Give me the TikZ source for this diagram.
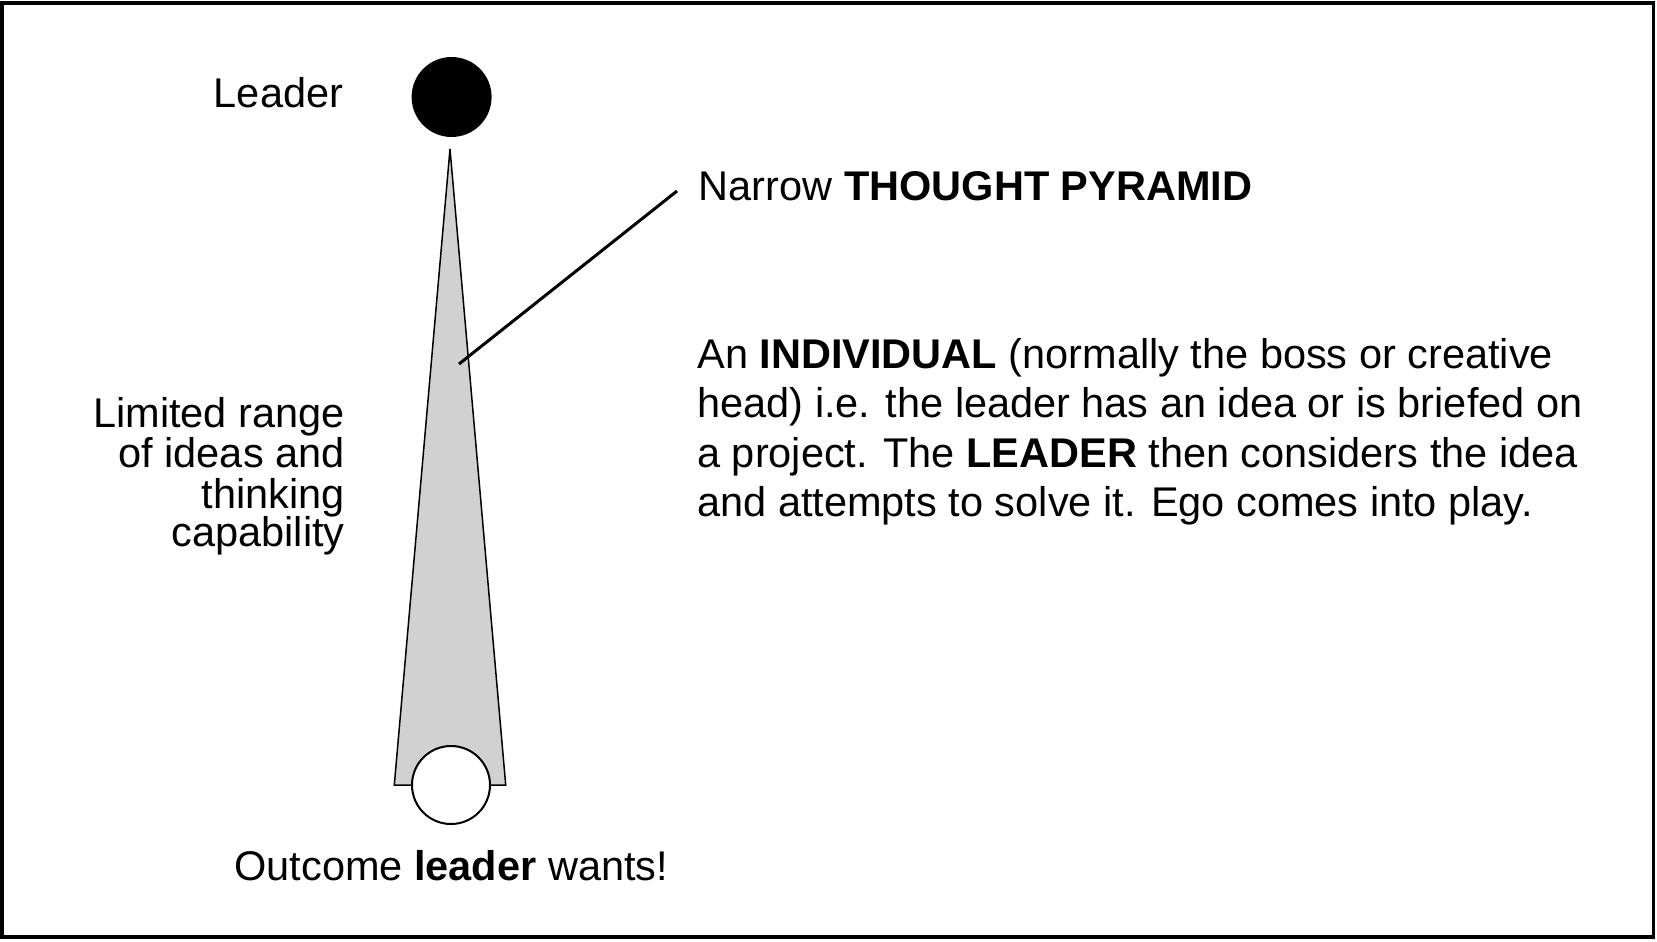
\documentclass[tikz,border=0pt]{standalone}
\usepackage{fontspec}
\setmainfont{Liberation Sans}
\definecolor{pyrgray}{gray}{0.82}
\begin{document}
\begin{tikzpicture}[x=0.5pt,y=-0.5pt,
  txt/.style={inner sep=0pt, font=\fontsize{20.75pt}{23.75pt}\selectfont}]
\useasboundingbox (0,0) rectangle (1657,941);
\draw[line width=1.85pt] (2,2.7) rectangle (1653.5,937);
% pyramid
\coordinate (apex) at (450,149);
\coordinate (bl) at (394.3,785);
\coordinate (br) at (505.7,785);
\filldraw[fill=pyrgray, line width=0.75pt] (apex) -- (br) -- (bl) -- cycle;
\node (outcome) [circle, draw, fill=white, line width=1pt, inner sep=0pt, minimum size=39pt] at (451,785) {};
\node (leader) [circle, fill=black, inner sep=0pt, minimum size=40pt] at (451.6,97) {};
% labels
\node[txt, anchor=base east] (leaderlbl) at (343.5,108) {Leader};
\node[txt, anchor=base west] (narrow) at (698.5,200) {Narrow \textbf{THOUGHT PYRAMID}};
\node[txt, anchor=base east] (lim1) at (345,427.7) {Limited range};
\node[txt, anchor=base east] (lim2) at (345,467.9) {of ideas and};
\node[txt, anchor=base east] (lim3) at (345,508.1) {thinking};
\node[txt, anchor=base east] (lim4) at (345,546.7) {capability};
\node[txt, anchor=base west] (par1) at (697,368.5) {An \textbf{INDIVIDUAL} (normally the boss or creative};
\node[txt, anchor=base west] (par2) at (697,417.8) {head) i.e. the leader has an idea or is briefed on};
\node[txt, anchor=base west] (par3) at (697,467.2) {a project. The \textbf{LEADER} then considers the idea};
\node[txt, anchor=base west] (par4) at (697,516.5) {and attempts to solve it. Ego comes into play.};
\node[txt, anchor=base west] (outlbl) at (234,880) {Outcome \textbf{leader} wants!};
% connector
\coordinate (c1) at (677,191);
\coordinate (c2) at (459,364);
\draw[line width=1.5pt] (c1) -- (c2);
\end{tikzpicture}
\end{document}
